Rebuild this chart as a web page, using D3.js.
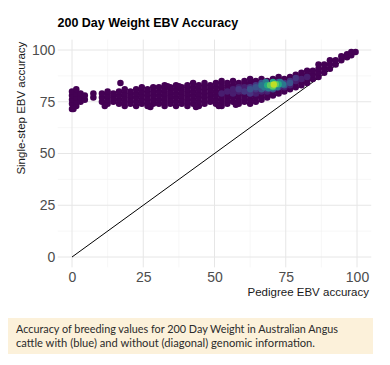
<!DOCTYPE html>
<html><head><meta charset="utf-8">
<script src="https://cdn.jsdelivr.net/npm/d3@7"></script>
<style>body{margin:0;background:#fff}svg{display:block}</style>
</head><body><svg id="chart" width="390" height="365"></svg>
<script>
// ---------- data ----------
const title = "200 Day Weight EBV Accuracy";
const xLabel = "Pedigree EBV accuracy";
const yLabel = "Single-step EBV accuracy";
const xTicks = [0, 25, 50, 75, 100];
const yTicks = [0, 25, 50, 75, 100];
const minorTicks = [12.5, 37.5, 62.5, 87.5];
const captionLines = [
  "Accuracy of breeding values for 200 Day Weight in Australian Angus",
  "cattle with (blue) and without (diagonal) genomic information."
];
const diagonalPedigree = [0, 100];
const diagonalSingleStep = [0, 100];

// animals, column by column: pedigree accuracy and the single-step accuracies found there
const pedigreeCols = [0, 1.5, 3, 4.5, 7.5, 10.5, 12.5, 14.5, 16.5, 18.5, 20.5, 22.5, 24.5, 26.5, 28.5,
  30.5, 32.5, 34.5, 36.5, 38.5, 40.5, 42.5, 44.5, 46.5, 48.5, 50.5, 52.5, 54.5, 56.5, 58.5,
  60.5, 62.5, 64.5, 66.5, 68.5, 70.5, 72.5, 74.5, 76.5, 78.5, 80.5, 82.5, 84.5, 86.5, 88.5,
  90.5, 92.5, 94.5, 96.5, 98, 99.5, 17, 11.5, 27.5, 33.5, 43.5, 51.5, 57.5, 0.5, 37.5];
const singleStepCols = [
  [71.5, 74, 76, 78, 80], [73, 75, 77, 79, 81], [75, 77, 79], [76, 78], [77, 79],
  [75, 77, 79], [74, 76, 78, 80], [75, 77, 79], [74, 76, 78, 80], [73, 75, 77, 79, 81],
  [74, 76, 78, 80], [73, 75, 77, 79, 81], [74, 76, 78, 80, 82], [73, 75, 77, 79, 81], [74, 76, 78, 80, 82],
  [74, 76, 78, 80, 82], [73, 75, 77, 79, 81, 83], [74, 76, 78, 80, 82], [73, 75, 77, 79, 81, 83], [74, 76, 78, 80, 82],
  [73, 75, 77, 79, 81, 83], [74, 76, 78, 80, 82, 84], [73, 75, 77, 79, 81, 83], [74, 76, 78, 80, 82, 84], [75, 77, 79, 81, 83],
  [74, 76, 78, 80, 82, 84], [73, 75, 77, 79, 81, 83, 85], [74, 76, 78, 80, 82, 84], [75, 77, 79, 81, 83, 85], [74, 76, 78, 80, 82, 84],
  [75, 77, 79, 81, 83, 85], [74, 76, 78, 80, 82, 84, 86], [75, 77, 79, 81, 83, 85], [76, 78, 80, 82, 84, 86], [77, 79, 81, 83, 85],
  [78, 80, 82, 84, 86], [79, 81, 83, 85, 87], [80, 82, 84, 86], [81, 83, 85, 87], [82, 84, 86, 88],
  [83, 85, 87, 89], [84, 86, 88, 90], [86, 88, 90], [87, 89, 91, 93], [89, 91, 93],
  [91, 93, 95], [93, 95], [95, 97], [96.5, 98], [97.5, 99], [99], [84],
  [73], [72.5], [82.5], [72.5], [73], [73.5], [71.5], [82.5]
];
const baseDensity = 0.0;

// denser animals (coloured by point density), drawn on top
const hotLevels = [0.08, 0.15, 0.25, 0.4, 0.6, 0.75, 0.9];
const hotPedigree = [
  [52.5, 54.5, 56.5, 58.5, 60.5, 62.5, 64.5, 66.5, 68.5, 74.5, 76.5, 78.5, 80.5, 82.5, 58.5, 56.5],
  [58.5, 60.5, 62.5, 64.5, 66.5, 68.5, 72.5, 74.5, 76.5, 78.5, 64.5, 62.5],
  [62.5, 64.5, 66.5, 68.5, 72.5, 74.5, 76.5, 66.5, 70.5],
  [66.5, 67.5, 69, 73, 74, 72, 68],
  [68.5, 72.5, 70.5, 70.5],
  [69.5, 71.5, 70.5],
  [70.8]
];
const hotSingleStep = [
  [79, 80, 79, 80, 82, 80, 79, 80, 80, 82, 83, 85, 86, 87, 82, 81],
  [81, 80, 82, 81, 82, 81, 82, 84, 85, 86.5, 83, 79],
  [81, 82, 81, 82, 84.5, 83, 84, 84, 81],
  [83, 82, 81.5, 84.5, 83.5, 82, 84.5],
  [83, 83.5, 82, 84.5],
  [83, 83.5, 82.5],
  [83.3]
];

// ---------- drawing ----------
const svg = d3.select("#chart");
const W = 390, H = 365;
svg.append("rect").attr("width", W).attr("height", H).attr("fill", "#fff");

const x = d3.scaleLinear().domain([-5, 105]).range([57.75, 371.25]);
const y = d3.scaleLinear().domain([-5, 105]).range([267.35, 39.65]);
const pLeft = x.range()[0], pRight = x.range()[1], pTop = y.range()[1], pBottom = y.range()[0];

// grid
const grid = svg.append("g");
grid.selectAll("line.mx").data(minorTicks).join("line")
  .attr("x1", d => x(d)).attr("x2", d => x(d)).attr("y1", pTop).attr("y2", pBottom)
  .attr("stroke", "#f2f2f2").attr("stroke-width", 0.6);
grid.selectAll("line.my").data(minorTicks).join("line")
  .attr("y1", d => y(d)).attr("y2", d => y(d)).attr("x1", pLeft).attr("x2", pRight)
  .attr("stroke", "#f2f2f2").attr("stroke-width", 0.6);
grid.selectAll("line.Mx").data(xTicks).join("line")
  .attr("x1", d => x(d)).attr("x2", d => x(d)).attr("y1", pTop).attr("y2", pBottom)
  .attr("stroke", "#e6e6e6").attr("stroke-width", 1);
grid.selectAll("line.My").data(yTicks).join("line")
  .attr("y1", d => y(d)).attr("y2", d => y(d)).attr("x1", pLeft).attr("x2", pRight)
  .attr("stroke", "#e6e6e6").attr("stroke-width", 1);

// axes (labels only)
const xAxis = svg.append("g").attr("transform", `translate(0,${pBottom})`)
  .call(d3.axisBottom(x).tickValues(xTicks).tickSize(0).tickPadding(4.7));
const yAxis = svg.append("g").attr("transform", `translate(${pLeft},0)`)
  .call(d3.axisLeft(y).tickValues(yTicks).tickSize(0).tickPadding(2.5));
[xAxis, yAxis].forEach(a => {
  a.select(".domain").remove();
  a.selectAll("text").attr("font-family", "Liberation Sans, Arial, sans-serif")
    .attr("font-size", 14).attr("fill", "#4d4d4d");
});

// diagonal (pedigree only)
const line = d3.line().x(d => x(d[0])).y(d => y(d[1]));
svg.append("path").datum(diagonalPedigree.map((p, i) => [p, diagonalSingleStep[i]]))
  .attr("d", line).attr("fill", "none").attr("stroke", "#000").attr("stroke-width", 1);

// points
const pts = [];
pedigreeCols.forEach((px, i) => singleStepCols[i].forEach(s => pts.push({p: px, s: s, d: baseDensity})));
hotLevels.forEach((lv, i) => hotPedigree[i].forEach((px, j) => pts.push({p: px, s: hotSingleStep[i][j], d: lv})));
pts.sort((a, b) => a.d - b.d);
svg.append("g").selectAll("circle").data(pts).join("circle")
  .attr("cx", d => x(d.p)).attr("cy", d => y(d.s)).attr("r", 3.25)
  .attr("fill", d => d3.interpolateViridis(d.d));

// titles
svg.append("text").attr("x", 57.5).attr("y", 26.5)
  .attr("font-family", "Liberation Sans, Arial, sans-serif").attr("font-weight", "bold")
  .attr("font-size", 12.5).attr("fill", "#000").text(title);
svg.append("text").attr("x", 369).attr("y", 296).attr("text-anchor", "end")
  .attr("font-family", "Liberation Sans, Arial, sans-serif").attr("font-size", 11.5)
  .attr("fill", "#1a1a1a").text(xLabel);
svg.append("text").attr("transform", `translate(25,${pTop + 2}) rotate(-90)`).attr("text-anchor", "end")
  .attr("font-family", "Liberation Sans, Arial, sans-serif").attr("font-size", 11.5)
  .attr("fill", "#1a1a1a").text(yLabel);

// caption box
svg.append("rect").attr("x", 8).attr("y", 318).attr("width", 365).attr("height", 36).attr("fill", "#fcf1da");
const capWidths = [322, 299];
svg.append("g").selectAll("text").data(captionLines).join("text")
  .attr("x", 16).attr("y", (d, i) => 333 + i * 14)
  .attr("font-family", "Lato, 'Open Sans', sans-serif").attr("font-size", 11.5).attr("fill", "#2b2b2b")
  .attr("textLength", (d, i) => capWidths[i]).attr("lengthAdjust", "spacingAndGlyphs")
  .text(d => d);
</script>
</body></html>
